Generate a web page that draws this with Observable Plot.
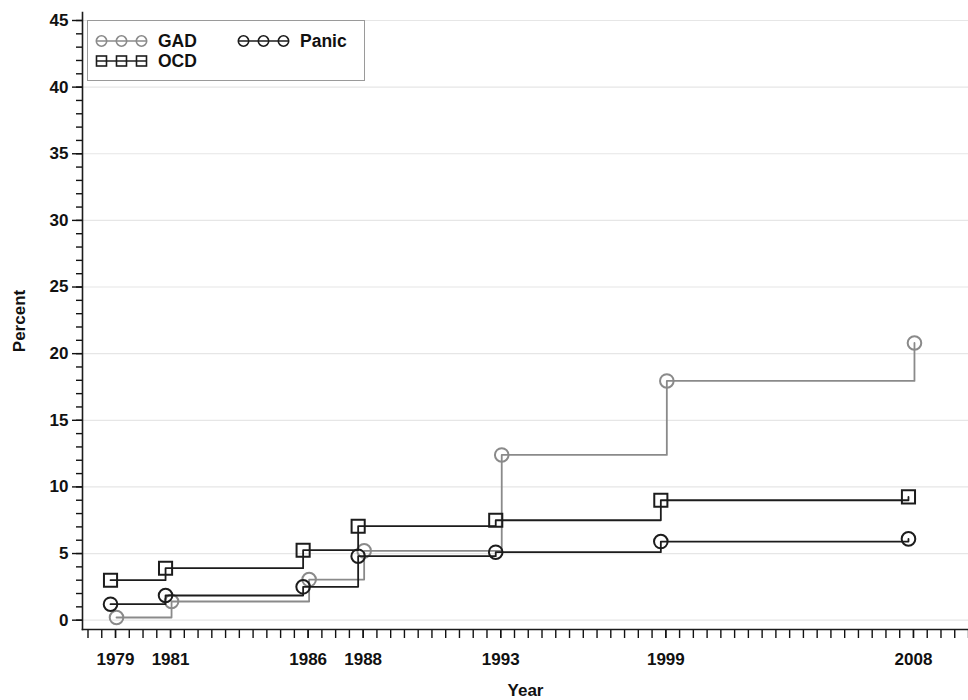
<!DOCTYPE html>
<html>
<head>
<meta charset="utf-8">
<script src="https://cdn.jsdelivr.net/npm/d3@7"></script>
<script src="https://cdn.jsdelivr.net/npm/@observablehq/plot@0.6"></script>
<style>
  body { margin: 0; background: #fff; }
  #wrap { position: relative; width: 968px; height: 700px; font-family: "Liberation Sans", Arial, sans-serif; }
  #legend { position: absolute; left: 87px; top: 20px; width: 276px; height: 59px; border: 1px solid #9a9a9a; background: #fff; }
</style>
</head>
<body>
<div id="wrap"><div id="legend"></div></div>
<script>
const years = [1979, 1981, 1986, 1988, 1993, 1999, 2008];
const gad   = [0.2, 1.4, 3.05, 5.2, 12.4, 17.95, 20.8];
const ocd   = [3.0, 3.9, 5.25, 7.05, 7.5, 9.0, 9.25];
const panic = [1.2, 1.85, 2.5, 4.8, 5.1, 5.9, 6.1];
const yTicks = [0, 5, 10, 15, 20, 25, 30, 35, 40, 45];
const yMinor = d3.range(0, 46, 1);
const xMinor = d3.range(1978, 2010.01, 0.5);

const gray = "#8a8a8a", black = "#1c1c1c";
const toRows = (vals) => years.map((yr, i) => ({year: yr, value: vals[i]}));
const gadRows = toRows(gad), ocdRows = toRows(ocd), panicRows = toRows(panic);

const font = "'Liberation Sans', Arial, sans-serif";
const fs = 17;

const chart = Plot.plot({
  width: 968,
  height: 700,
  marginLeft: 82,
  marginRight: 0,
  marginTop: 12,
  marginBottom: 71,
  style: {fontFamily: font, fontSize: fs + "px", fontWeight: "bold", color: "#111", background: "white"},
  x: {domain: [1977.8, 2010.0]},
  y: {domain: [-0.7, 45.6]},
  marks: [
    Plot.gridY(yTicks, {stroke: "#e6e6e6", strokeOpacity: 1, strokeWidth: 1.2}),
    Plot.axisY(yMinor, {tickSize: 6, text: null, label: null, strokeWidth: 1.4}),
    Plot.axisY(yTicks, {tickSize: 10, tickPadding: 4, fontSize: fs, fontWeight: "bold", strokeWidth: 1.4,
      label: "Percent", labelAnchor: "center", labelArrow: "none", labelOffset: 70}),
    Plot.axisX(xMinor, {tickSize: 9, text: null, label: null, strokeWidth: 1.4}),
    Plot.axisX(years, {tickSize: 9, tickPadding: 14, fontSize: fs, fontWeight: "bold", strokeWidth: 1.4,
      tickFormat: d => String(d), label: "Year", labelAnchor: "center", labelArrow: "none", labelOffset: 66}),
    Plot.frame({anchor: "left", stroke: black, strokeWidth: 1.6}),
    Plot.frame({anchor: "bottom", stroke: black, strokeWidth: 1.6}),
    Plot.line(gadRows, {x: "year", y: "value", curve: "step-after", stroke: gray, strokeWidth: 1.8, dx: 1}),
    Plot.dot(gadRows, {x: "year", y: "value", r: 6.8, stroke: gray, strokeWidth: 2, fill: "none", dx: 1}),
    Plot.line(ocdRows, {x: "year", y: "value", curve: "step-after", stroke: black, strokeWidth: 1.8, dx: -5}),
    Plot.dot(ocdRows, {x: "year", y: "value", symbol: "square", r: 7.4, stroke: black, strokeWidth: 2, fill: "none", dx: -5}),
    Plot.line(panicRows, {x: "year", y: "value", curve: "step-after", stroke: black, strokeWidth: 1.8, dx: -5}),
    Plot.dot(panicRows, {x: "year", y: "value", r: 6.8, stroke: black, strokeWidth: 2, fill: "none", dx: -5})
  ]
});
document.getElementById("wrap").prepend(chart);

// Legend
const legendItems = [
  {name: "GAD", color: gray, symbol: "circle", x: 8, y: 20},
  {name: "Panic", color: black, symbol: "circle", x: 150, y: 20},
  {name: "OCD", color: black, symbol: "square", x: 8, y: 40}
];
const ls = d3.select("#legend").append("svg").attr("width", 276).attr("height", 59)
  .style("font-family", font).style("font-weight", "bold").style("font-size", "17.5px");
for (const it of legendItems) {
  const g = ls.append("g").attr("transform", `translate(${it.x},${it.y})`);
  g.append("line").attr("x1", 0).attr("x2", 51).attr("y1", 0).attr("y2", 0).attr("stroke", it.color).attr("stroke-width", 1.6);
  for (const cx of [5.5, 25.5, 45.5]) {
    if (it.symbol === "circle") {
      g.append("circle").attr("cx", cx).attr("cy", 0).attr("r", 5.2).attr("fill", "none").attr("stroke", it.color).attr("stroke-width", 1.6);
    } else {
      g.append("rect").attr("x", cx - 5).attr("y", -5).attr("width", 10).attr("height", 10).attr("fill", "none").attr("stroke", it.color).attr("stroke-width", 1.6);
    }
  }
  g.append("text").attr("x", 62).attr("y", 0).attr("dy", "0.36em").attr("fill", "#111").text(it.name);
}
</script>
</body>
</html>
